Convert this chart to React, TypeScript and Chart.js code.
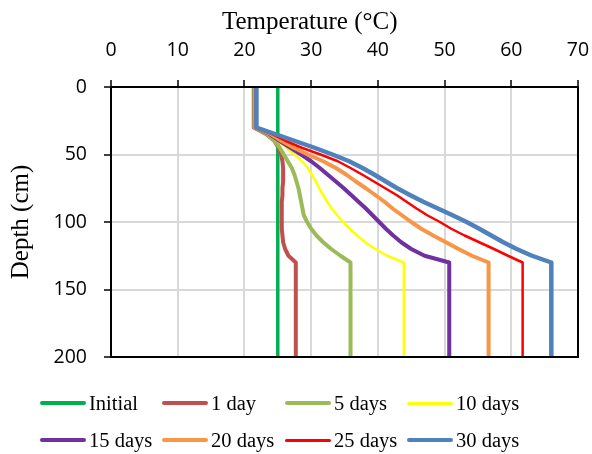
import React, { useEffect, useRef } from "react";
import { Chart, registerables } from "chart.js";

Chart.register(...registerables);

// Depth (cm) at which each temperature was read
const depths = [0, 30, 35, 40, 45, 50, 55, 60, 65, 70, 75, 80, 85, 90, 95, 100, 105, 110, 115, 120, 125, 130, 200];

const initialDepths = [0, 200];
const initialTemps = [25.0, 25.0];

const day1 = [21.4, 21.4, 23.3, 24.5, 25.1, 25.5, 25.7, 25.8, 25.8, 25.8, 25.7, 25.7, 25.6, 25.6, 25.6, 25.6, 25.6, 25.7, 25.8, 26.1, 26.6, 27.7, 27.7];
const day5 = [21.5, 21.5, 23.4, 24.5, 25.3, 25.9, 26.5, 27.1, 27.5, 27.8, 28.1, 28.3, 28.5, 28.7, 28.9, 29.4, 30.0, 30.8, 31.8, 33.0, 34.4, 35.9, 35.9];
const day10 = [21.5, 21.5, 23.6, 25.0, 26.3, 27.5, 28.6, 29.5, 30.1, 30.7, 31.2, 31.8, 32.4, 33.1, 33.9, 34.8, 35.8, 36.9, 38.1, 39.6, 41.4, 43.9, 43.9];
const day15 = [21.6, 21.6, 23.8, 25.3, 26.9, 28.5, 30.0, 31.3, 32.5, 33.7, 34.9, 36.0, 37.1, 38.2, 39.2, 40.2, 41.2, 42.3, 43.5, 45.0, 47.0, 50.7, 50.7];
const day20 = [21.6, 21.6, 24.0, 25.6, 27.4, 29.5, 31.8, 33.7, 35.3, 36.7, 38.2, 39.6, 41.0, 42.2, 43.6, 45.0, 46.5, 48.3, 50.2, 52.1, 54.1, 56.6, 56.6];
const day25 = [21.7, 21.7, 24.2, 26.2, 28.6, 31.4, 34.0, 35.9, 37.7, 39.4, 41.1, 42.8, 44.3, 45.8, 47.4, 49.3, 51.0, 53.0, 55.2, 57.4, 59.5, 61.7, 61.7];
const day30 = [21.8, 21.8, 24.7, 27.6, 30.5, 33.2, 35.7, 37.7, 39.5, 41.2, 42.9, 44.8, 46.8, 49.0, 51.2, 53.3, 55.2, 57.0, 58.8, 60.8, 63.1, 66.0, 66.0];

const seriesLabels = ["Initial", "1 day", "5 days", "10 days", "15 days", "20 days", "25 days", "30 days"];
const seriesColors = ["#00B050", "#C0504D", "#9BBB59", "#FFFF00", "#7030A0", "#F79646", "#FF0000", "#4F81BD"];
const seriesWidths = [3.5, 4, 4, 2.5, 4, 4, 2.5, 4.5];

const xMin = 0, xMax = 70, xStep = 10;
const yMin = 0, yMax = 200, yStep = 50;

const serif = '"Liberation Serif", "Times New Roman", serif';
const sans = '"Open Sans", "Liberation Sans", sans-serif';

const toPoints = (temps: number[], ds: number[]) => temps.map((t, i) => ({ x: t, y: ds[i] }));

export default function App() {
  const canvasRef = useRef<HTMLCanvasElement | null>(null);

  useEffect(() => {
    const canvas = canvasRef.current;
    if (!canvas) return;
    const seriesData = [
      toPoints(initialTemps, initialDepths),
      toPoints(day1, depths),
      toPoints(day5, depths),
      toPoints(day10, depths),
      toPoints(day15, depths),
      toPoints(day20, depths),
      toPoints(day25, depths),
      toPoints(day30, depths),
    ];
    const frame = {
      id: "frame",
      afterDatasetsDraw(chart: any) {
        const { ctx, chartArea: a } = chart;
        ctx.save();
        ctx.strokeStyle = "#000";
        ctx.lineWidth = 2;
        ctx.strokeRect(a.left, a.top, a.right - a.left, a.bottom - a.top);
        ctx.restore();
      },
    };
    const chart = new Chart(canvas, {
      type: "scatter",
      data: {
        datasets: seriesData.map((d, i) => ({
          label: seriesLabels[i],
          data: d,
          showLine: true,
          borderColor: seriesColors[i],
          backgroundColor: seriesColors[i],
          borderWidth: seriesWidths[i],
          pointRadius: 0,
          pointHoverRadius: 0,
          tension: 0,
          borderJoinStyle: "round",
          order: seriesData.length - 1 - i,
        })),
      },
      options: {
        animation: false,
        responsive: false,
        events: [],
        layout: { padding: { left: 0, top: 0, right: 14, bottom: 97 } },
        plugins: {
          legend: { display: false },
          tooltip: { enabled: false },
          title: { display: false },
        },
        scales: {
          x: {
            type: "linear",
            position: "top",
            min: xMin,
            max: xMax,
            ticks: {
              stepSize: xStep,
              padding: 18,
              color: "#000",
              font: { family: sans, size: 19.5 },
            },
            grid: { color: "#d9d9d9", lineWidth: 2, tickColor: "#000", tickLength: 7, tickWidth: 1.5 },
            border: { display: false },
            afterFit(s: any) {
              s.height = 87;
              s.paddingLeft = 0;
              s.paddingRight = 0;
            },
          },
          y: {
            type: "linear",
            reverse: true,
            min: yMin,
            max: yMax,
            ticks: {
              stepSize: yStep,
              padding: 17,
              color: "#000",
              font: { family: sans, size: 19.5 },
            },
            grid: { color: "#d9d9d9", lineWidth: 2, tickColor: "#000", tickLength: 7, tickWidth: 1.5 },
            border: { display: false },
            title: {
              display: true,
              text: "Depth (cm)",
              color: "#000",
              font: { family: serif, size: 25 },
              padding: { top: 6, bottom: 0 },
            },
            afterFit(s: any) {
              s.width = 111;
              s.paddingTop = 0;
              s.paddingBottom = 0;
            },
          },
        },
      },
      plugins: [frame],
    } as any);
    return () => chart.destroy();
  }, []);

  const colLeft = [40, 162, 285, 407];
  const rowY = [403, 440];

  return (
    <div style={{ position: "absolute", left: 0, top: 0, width: 592, height: 454, background: "#fff", overflow: "hidden" }}>
      <canvas ref={canvasRef} width={592} height={454} style={{ position: "absolute", left: 0, top: 0, width: 592, height: 454 }} />
      <div
        style={{
          position: "absolute",
          left: 222,
          top: 8,
          fontFamily: serif,
          fontSize: 25,
          lineHeight: "25px",
          whiteSpace: "nowrap",
          color: "#000",
        }}
      >
        Temperature (°C)
      </div>
      {seriesLabels.map((lab, i) => {
        const col = i % 4;
        const row = Math.floor(i / 4);
        return (
          <div
            key={lab}
            style={{
              position: "absolute",
              left: colLeft[col],
              top: rowY[row] - 12,
              height: 24,
              display: "flex",
              alignItems: "center",
              whiteSpace: "nowrap",
            }}
          >
            <div
              style={{
                width: 46,
                height: seriesWidths[i] >= 3 ? 4 : 3,
                background: seriesColors[i],
                borderRadius: 2,
                marginRight: 3,
              }}
            />
            <span style={{ fontFamily: serif, fontSize: 20.5, lineHeight: "20.5px", color: "#000" }}>{lab}</span>
          </div>
        );
      })}
    </div>
  );
}
